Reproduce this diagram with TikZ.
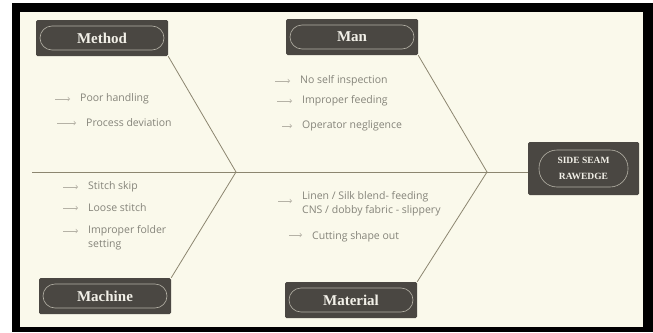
\documentclass[tikz,border=0pt]{standalone}
\usepackage{fontspec}
\setmainfont{Open Sans}
\newfontfamily\catfont{Liberation Serif}
\usetikzlibrary{arrows,positioning}

\definecolor{paper}{HTML}{FAF9EB}
\definecolor{boxgray}{HTML}{4A4742}
\definecolor{bonecol}{HTML}{8C8670}
\definecolor{itemgray}{HTML}{85847A}
\definecolor{ringgray}{HTML}{B5B2A6}
\definecolor{labelwhite}{HTML}{F2F0E8}

\tikzset{
  catbox/.style={fill=boxgray, rounded corners=1.5pt, minimum width=132pt, minimum height=36pt, inner sep=0pt},
  catring/.style={draw=ringgray, line width=0.6pt, rounded corners=12pt, minimum width=124pt, minimum height=24pt, inner sep=0pt, text=labelwhite, font=\catfont\bfseries\fontsize{15}{15}\selectfont},
  cause/.style={anchor=west, inner sep=0pt, align=left, text=itemgray, font=\fontsize{10.5}{14}\selectfont},
  tip/.style={->, >=to, draw=ringgray, line width=0.7pt, shorten >=10pt},
  bone/.style={draw=bonecol, line width=0.8pt}
}

\begin{document}
\begin{tikzpicture}[x=1pt,y=-1pt]

\useasboundingbox[fill=white] (0,0) rectangle (653,332);
\fill[black] (12,3) rectangle (653,332);
\fill[paper] (20,12) rectangle (643,327);

% category boxes
\node[catbox] (method)   at (102,38)  {};
\node[catbox] (man)      at (352,37)  {};
\node[catbox] (machine)  at (105,296) {};
\node[catbox] (material) at (351,300) {};

\node[catring] (methodtxt)   at (method)   {Method};
\node[catring] (mantxt)      at (man)      {Man};
\node[catring] (machinetxt)  at (machine)  {Machine};
\node[catring] (materialtxt) at (material) {Material};

% effect
\node[catbox, minimum width=111pt, minimum height=53pt] (effect) at (583.5,168.5) {};
\node[catring, minimum width=89pt, minimum height=37pt, rounded corners=18pt, align=center,
      font=\catfont\bfseries\fontsize{9.5}{16}\selectfont] (effecttxt) at (effect) {SIDE SEAM\\RAWEDGE};

% spine and bones
\coordinate (tail) at (32,172);
\coordinate (j1)   at (236,172);
\coordinate (j2)   at (487,172);

\path[bone]
	(tail) edge (tail -| effect.west);

\path[bone]
	(method.south east)   edge (j1)
	(machine.north east)  edge (j1)
	(man.south east)      edge (j2)
	(material.north east) edge (j2);

% causes
\node[cause] (poor)    at (80,99)  {Poor handling};
\node[cause] (process) at (86,123) {Process deviation};

\node[cause] (noself)   at (300,81) {No self inspection};
\node[cause] (feeding)  at (302,101) {Improper feeding};
\node[cause] (operator) at (302,126) {Operator negligence};

\node[cause] (skip)   at (88,187) {Stitch skip};
\node[cause] (loose)  [below=21pt of skip.west, anchor=west] {Loose stitch};
\node[cause] (folder) at (88,238) {Improper folder\\setting};

\node[cause] (linen)   at (302,204) {Linen / Silk blend- feeding\\CNS / dobby fabric - slippery};
\node[cause] (cutting) at (312,237) {Cutting shape out};

\coordinate (a1) at (55,99);
\coordinate (a2) at (57,123);
\coordinate (a3) at (275,81);
\coordinate (a4) at (277,101);
\coordinate (a5) at (282,126);
\coordinate (a6) at (63,187);
\coordinate (a7) at (63,208);
\coordinate (a8) at (63,231);
\coordinate (a9) at (278,201);
\coordinate (a10) at (289,235);

\draw[tip] (a1) -- (a1 -| poor.west);
\draw[tip] (a2) -- (a2 -| process.west);
\draw[tip] (a3) -- (a3 -| noself.west);
\draw[tip] (a4) -- (a4 -| feeding.west);
\draw[tip] (a5) -- (a5 -| operator.west);
\draw[tip] (a6) -- (a6 -| skip.west);
\draw[tip] (a7) -- (a7 -| loose.west);
\draw[tip] (a8) -- (a8 -| folder.west);
\draw[tip] (a9) -- (a9 -| linen.west);
\draw[tip] (a10) -- (a10 -| cutting.west);

\end{tikzpicture}
\end{document}
